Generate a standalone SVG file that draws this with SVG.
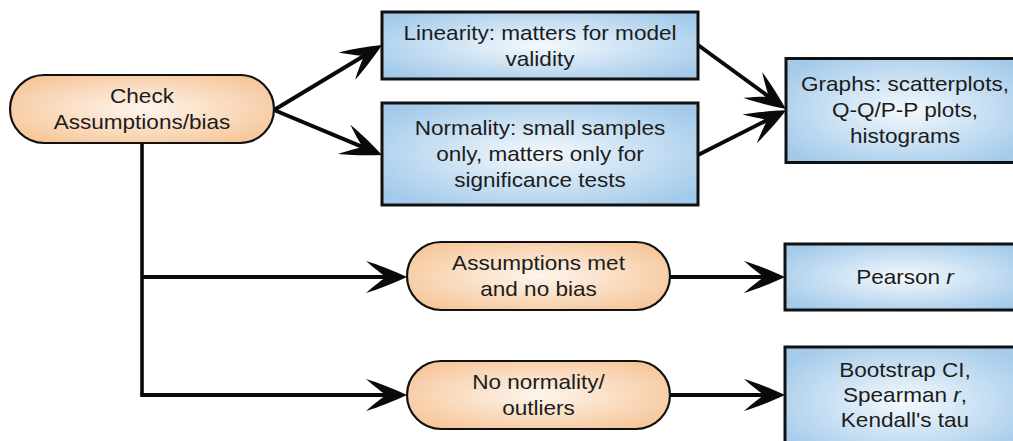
<svg xmlns="http://www.w3.org/2000/svg" width="1013" height="441" viewBox="0 0 1013 441">
  <style>
    .t { font-family: "Liberation Sans", Arial, sans-serif; font-size: 20.5px; fill: #1c1c1c; text-anchor: middle; }
    .pill { fill: url(#gOrange); stroke: #111; stroke-width: 2.2; }
    .box { fill: url(#gBlue); stroke: #111; stroke-width: 3; }
    .conn { fill: none; stroke: #0a0a0a; stroke-width: 4; marker-end: url(#arrow); }
    .line { fill: none; stroke: #0a0a0a; stroke-width: 3.6; }
  </style>
  <defs>
    <radialGradient id="gOrange" cx="0.5" cy="0.5" r="0.62">
      <stop offset="0" stop-color="#fdf5ec"/>
      <stop offset="1" stop-color="#f6c598"/>
    </radialGradient>
    <radialGradient id="gBlue" cx="0.5" cy="0.5" r="0.62">
      <stop offset="0" stop-color="#f4f9fd"/>
      <stop offset="1" stop-color="#a3caea"/>
    </radialGradient>
    <marker id="arrow" markerUnits="userSpaceOnUse" viewBox="-44 -18 46 36" markerWidth="46" markerHeight="36" refX="-20" refY="0" orient="auto" overflow="visible">
      <path d="M0,0 C-13,-6 -28,-12 -41,-16 C-33,-9 -26,-3.5 -21,0 C-26,3.5 -33,9 -41,16 C-28,12 -13,6 0,0 Z" fill="#0a0a0a"/>
    </marker>
  </defs>

  <g id="connectors">
    <path class="conn" d="M274,110 L364.9,55.3"/>
    <path class="conn" d="M274,110 L363.5,147.3"/>
    <path class="conn" d="M698,45 L769.7,97.3"/>
    <path class="conn" d="M698,155 L768.4,119.4"/>
    <path class="line" d="M142,143 V395"/>
    <path class="conn" d="M142,277 H387"/>
    <path class="conn" d="M140.2,395 H387"/>
    <path class="conn" d="M670,277 H765"/>
    <path class="conn" d="M670,395 H765"/>
  </g>

  <g id="check">
    <rect class="pill" x="10" y="75" width="264" height="68" rx="34"/>
    <text class="t" transform="translate(142 0) scale(1.1 1)"><tspan x="0" y="103.3">Check</tspan><tspan x="0" y="129.3">Assumptions/bias</tspan></text>
  </g>

  <g id="linearity">
    <rect class="box" x="382" y="12" width="316" height="67"/>
    <text class="t" transform="translate(540 0) scale(1.1 1)"><tspan x="0" y="39.8">Linearity: matters for model</tspan><tspan x="0" y="65.8">validity</tspan></text>
  </g>

  <g id="normality">
    <rect class="box" x="382" y="103" width="316" height="102"/>
    <text class="t" transform="translate(540 0) scale(1.1 1)"><tspan x="0" y="135.5">Normality: small samples</tspan><tspan x="0" y="161.5">only, matters only for</tspan><tspan x="0" y="187.5">significance tests</tspan></text>
  </g>

  <g id="graphs">
    <rect class="box" x="786" y="58.5" width="240" height="104"/>
    <text class="t" transform="translate(905 0) scale(1.1 1)"><tspan x="0" y="91">Graphs: scatterplots,</tspan><tspan x="0" y="117">Q-Q/P-P plots,</tspan><tspan x="0" y="143">histograms</tspan></text>
  </g>

  <g id="assumptions-met">
    <rect class="pill" x="407" y="242" width="263" height="68" rx="34"/>
    <text class="t" transform="translate(538.5 0) scale(1.1 1)"><tspan x="0" y="270.5">Assumptions met</tspan><tspan x="0" y="296.5">and no bias</tspan></text>
  </g>

  <g id="no-normality">
    <rect class="pill" x="407" y="361" width="263" height="68" rx="34"/>
    <text class="t" transform="translate(538.5 0) scale(1.1 1)"><tspan x="0" y="389">No normality/</tspan><tspan x="0" y="415">outliers</tspan></text>
  </g>

  <g id="pearson">
    <rect class="box" x="785" y="244" width="240" height="66"/>
    <text class="t" transform="translate(905 0) scale(1.1 1)"><tspan x="0" y="284.3">Pearson <tspan font-style="italic">r</tspan></tspan></text>
  </g>

  <g id="bootstrap">
    <rect class="box" x="785" y="347" width="240" height="110"/>
    <text class="t" transform="translate(905 0) scale(1.1 1)"><tspan x="0" y="377">Bootstrap CI,</tspan><tspan x="0" y="402">Spearman <tspan font-style="italic">r</tspan>,</tspan><tspan x="0" y="427">Kendall's tau</tspan></text>
  </g>
</svg>
